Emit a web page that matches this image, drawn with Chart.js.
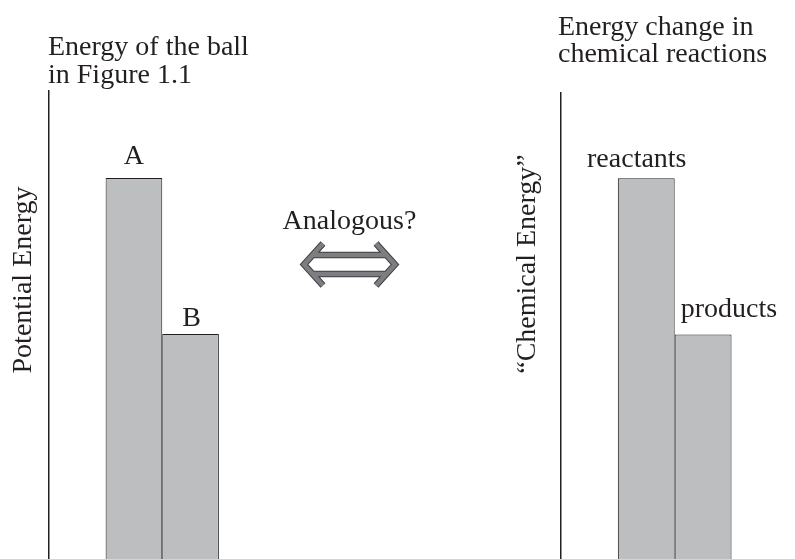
<!DOCTYPE html>
<html>
<head>
<meta charset="utf-8">
<script src="https://cdn.jsdelivr.net/npm/chart.js@4.4.1/dist/chart.umd.min.js"></script>
<style>
  body { margin: 0; background: #fff; width: 795px; height: 559px; overflow: hidden; position: relative; }
  canvas { position: absolute; top: 0; }
  #ballChart { left: 0; }
  #reactionChart { left: 440px; }
</style>
</head>
<body>
<canvas id="ballChart" width="440" height="559"></canvas>
<canvas id="reactionChart" width="355" height="559"></canvas>
<script>
// heights, y axis runs 0..100 (no units shown)
const ballLabels = ['A', 'B'];
const ballEnergy = [81.4, 48.1];
const reactionLabels = ['reactants', 'products'];
const reactionEnergy = [81.7, 48.2];

const ink = '#231f20';
const barGrey = '#bcbec0';
const serif = '"Liberation Serif", "Times New Roman", serif';

// titles, rotated axis title and the names over the bars
const panelText = {
  id: 'panelText',
  afterDraw(chart, args, opts) {
    const ctx = chart.ctx;
    ctx.save();
    ctx.fillStyle = ink;
    ctx.font = '28px ' + serif;
    ctx.textBaseline = 'alphabetic';

    ctx.textAlign = 'left';
    opts.title.forEach((line, i) => ctx.fillText(line, opts.titleX, opts.titleY[i]));

    ctx.save();
    ctx.translate(opts.axisX, opts.axisY);
    ctx.rotate(-Math.PI / 2);
    ctx.textAlign = 'center';
    ctx.fillText(opts.axisTitle, 0, 0);
    ctx.restore();

    chart.data.datasets.forEach((ds, i) => {
      const bar = chart.getDatasetMeta(i).data[0];
      const pos = opts.barLabels[i];
      ctx.textAlign = pos.align;
      const x = pos.align === 'left' ? bar.x - bar.width / 2 + pos.dx : bar.x + pos.dx;
      ctx.fillText(ds.label, x, bar.y - pos.gap);
    });
    ctx.restore();
  }
};

// the "Analogous?" double arrow between the two panels
const analogyArrow = {
  id: 'analogyArrow',
  afterDraw(chart, args, opts) {
    if (!opts.show) return;
    const ctx = chart.ctx;
    const cx = opts.x, cy = opts.y;
    const half = 45.5, head = 19, arm = 21, gap = 9.5;
    const inset = head * gap / arm;
    ctx.save();
    ctx.font = '28px ' + serif;
    ctx.fillStyle = ink;
    ctx.textAlign = 'center';
    ctx.fillText(opts.text, cx, opts.textY);

    const path = () => {
      ctx.beginPath();
      ctx.moveTo(cx - half + head, cy - arm);
      ctx.lineTo(cx - half, cy);
      ctx.lineTo(cx - half + head, cy + arm);
      ctx.moveTo(cx + half - head, cy - arm);
      ctx.lineTo(cx + half, cy);
      ctx.lineTo(cx + half - head, cy + arm);
      ctx.moveTo(cx - half + inset, cy - gap);
      ctx.lineTo(cx + half - inset, cy - gap);
      ctx.moveTo(cx - half + inset, cy + gap);
      ctx.lineTo(cx + half - inset, cy + gap);
    };
    ctx.lineJoin = 'miter';
    path();
    ctx.strokeStyle = '#414143';
    ctx.lineWidth = 6.5;
    ctx.stroke();
    path();
    ctx.strokeStyle = '#7d7e81';
    ctx.lineWidth = 4.5;
    ctx.stroke();
    ctx.restore();
  }
};

function panelChart(id, names, values, padding, text, arrow) {
  return new Chart(document.getElementById(id), {
    type: 'bar',
    data: {
      labels: [''],
      datasets: names.map((name, i) => ({
        label: name,
        data: [values[i]],
        backgroundColor: barGrey,
        borderColor: ink,
        borderWidth: 1,
        categoryPercentage: 0.5,
        barPercentage: 1
      }))
    },
    options: {
      responsive: false,
      animation: false,
      layout: { padding: padding },
      scales: {
        x: { display: false },
        y: {
          min: 0,
          max: 100,
          ticks: { display: false },
          grid: { display: false, drawTicks: false },
          border: { display: true, color: ink, width: 1.5 }
        }
      },
      plugins: {
        legend: { display: false },
        tooltip: { enabled: false },
        panelText: text,
        analogyArrow: arrow
      }
    },
    plugins: [panelText, analogyArrow]
  });
}

panelChart('ballChart', ballLabels, ballEnergy,
  { left: 49, top: 91, right: 164.5, bottom: 0 },
  {
    title: ['Energy of the ball', 'in Figure 1.1'],
    titleX: 48, titleY: [55, 83],
    axisTitle: 'Potential Energy', axisX: 31, axisY: 280,
    barLabels: [{ align: 'center', dx: 0, gap: 14 }, { align: 'center', dx: 1, gap: 8 }]
  },
  { show: true, text: 'Analogous?', x: 349.5, y: 264.5, textY: 229 }
);

panelChart('reactionChart', reactionLabels, reactionEnergy,
  { left: 121, top: 93, right: 6.6, bottom: 0 },
  {
    title: ['Energy change in', 'chemical reactions'],
    titleX: 118, titleY: [35, 62],
    axisTitle: '\u201cChemical Energy\u201d', axisX: 95, axisY: 264,
    barLabels: [{ align: 'center', dx: -9.5, gap: 11 }, { align: 'left', dx: 6, gap: 17 }]
  },
  { show: false }
);
</script>
</body>
</html>
